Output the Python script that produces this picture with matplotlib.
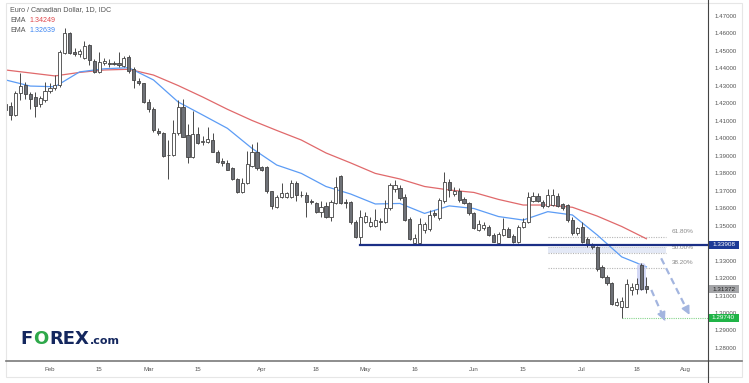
import matplotlib
matplotlib.use('Agg')
import matplotlib.pyplot as plt
import numpy as np
import pandas as pd
from matplotlib.patches import Rectangle, FancyBboxPatch
from matplotlib.lines import Line2D
import matplotlib.transforms as mtransforms

plt.rcParams['font.family'] = ['Liberation Sans', 'DejaVu Sans']

# ---------------- data ----------------
dates = pd.bdate_range('2022-01-19', '2022-07-20')

opens = [1.4196, 1.4185, 1.4133, 1.4261, 1.4305, 1.4254, 1.4236, 1.4196, 1.4219, 1.4272,
         1.4288, 1.4305, 1.4487, 1.4603, 1.4496, 1.4481, 1.4460, 1.4534, 1.4444, 1.4378,
         1.4429, 1.4431, 1.4431, 1.4433, 1.4414, 1.4467, 1.4395, 1.4330, 1.4315, 1.4210,
         1.4168, 1.4044, 1.4030, 1.3907, 1.3904, 1.4030, 1.4179, 1.4019, 1.3893, 1.4027,
         1.3979, 1.3981, 1.3990, 1.3923, 1.3868, 1.3860, 1.3828, 1.3765, 1.3690, 1.3744,
         1.3841, 1.3923, 1.3834, 1.3834, 1.3696, 1.3609, 1.3662, 1.3664, 1.3664, 1.3742,
         1.3678, 1.3675, 1.3643, 1.3631, 1.3580, 1.3610, 1.3552, 1.3630, 1.3784, 1.3637,
         1.3637, 1.3523, 1.3435, 1.3523, 1.3500, 1.3500, 1.3528, 1.3519, 1.3599, 1.3708,
         1.3714, 1.3664, 1.3538, 1.3402, 1.3402, 1.3475, 1.3478, 1.3571, 1.3544, 1.3641,
         1.3752, 1.3681, 1.3700, 1.3651, 1.3631, 1.3574, 1.3475, 1.3485, 1.3494, 1.3447,
         1.3402, 1.3447, 1.3479, 1.3441, 1.3408, 1.3491, 1.3521, 1.3643, 1.3670, 1.3637,
         1.3610, 1.3618, 1.3670, 1.3624, 1.3618, 1.3532, 1.3456, 1.3492, 1.3424, 1.3392,
         1.3380, 1.3265, 1.3206, 1.3173, 1.3043, 1.3036, 1.3036, 1.3132, 1.3135, 1.3272,
         1.3157]
highs = [1.4219, 1.4210, 1.4272, 1.4374, 1.4324, 1.4267, 1.4267, 1.4242, 1.4324, 1.4318,
         1.4362, 1.4505, 1.4630, 1.4610, 1.4515, 1.4509, 1.4559, 1.4540, 1.4452, 1.4496,
         1.4458, 1.4452, 1.4444, 1.4496, 1.4471, 1.4477, 1.4406, 1.4345, 1.4318, 1.4223,
         1.4179, 1.4058, 1.4036, 1.3990, 1.4105, 1.4219, 1.4225, 1.4082, 1.4159, 1.4067,
         1.4013, 1.4067, 1.4029, 1.3933, 1.3886, 1.3876, 1.3837, 1.3771, 1.3771, 1.3930,
         1.3967, 1.3978, 1.3841, 1.3841, 1.3701, 1.3675, 1.3746, 1.3694, 1.3761, 1.3758,
         1.3701, 1.3694, 1.3654, 1.3638, 1.3643, 1.3638, 1.3647, 1.3781, 1.3787, 1.3651,
         1.3643, 1.3532, 1.3590, 1.3580, 1.3548, 1.3594, 1.3542, 1.3647, 1.3742, 1.3761,
         1.3733, 1.3681, 1.3547, 1.3452, 1.3542, 1.3523, 1.3590, 1.3590, 1.3657, 1.3809,
         1.3765, 1.3723, 1.3714, 1.3666, 1.3637, 1.3580, 1.3532, 1.3521, 1.3504, 1.3456,
         1.3465, 1.3542, 1.3494, 1.3452, 1.3504, 1.3544, 1.3693, 1.3694, 1.3689, 1.3647,
         1.3708, 1.3708, 1.3685, 1.3631, 1.3624, 1.3551, 1.3494, 1.3521, 1.3435, 1.3401,
         1.3384, 1.3275, 1.3218, 1.3179, 1.3086, 1.3093, 1.3193, 1.3170, 1.3199, 1.3285,
         1.3208]
lows = [1.4151, 1.4105, 1.4128, 1.4219, 1.4225, 1.4168, 1.4122, 1.4179, 1.4210, 1.4261,
        1.4276, 1.4295, 1.4483, 1.4483, 1.4471, 1.4467, 1.4452, 1.4420, 1.4376, 1.4372,
        1.4420, 1.4410, 1.4420, 1.4410, 1.4408, 1.4376, 1.4286, 1.4305, 1.4204, 1.4152,
        1.4036, 1.4019, 1.3893, 1.3767, 1.3899, 1.4019, 1.4006, 1.3857, 1.3887, 1.3967,
        1.3962, 1.3973, 1.3922, 1.3860, 1.3841, 1.3816, 1.3761, 1.3684, 1.3684, 1.3738,
        1.3836, 1.3821, 1.3813, 1.3684, 1.3594, 1.3601, 1.3657, 1.3657, 1.3661, 1.3641,
        1.3664, 1.3551, 1.3624, 1.3572, 1.3548, 1.3544, 1.3527, 1.3624, 1.3626, 1.3599,
        1.3512, 1.3429, 1.3391, 1.3513, 1.3494, 1.3491, 1.3475, 1.3513, 1.3590, 1.3693,
        1.3647, 1.3524, 1.3415, 1.3393, 1.3395, 1.3456, 1.3467, 1.3551, 1.3532, 1.3631,
        1.3666, 1.3670, 1.3637, 1.3624, 1.3561, 1.3479, 1.3471, 1.3475, 1.3441, 1.3404,
        1.3393, 1.3441, 1.3433, 1.3402, 1.3402, 1.3484, 1.3515, 1.3638, 1.3637, 1.3599,
        1.3605, 1.3613, 1.3605, 1.3590, 1.3523, 1.3447, 1.3447, 1.3399, 1.3378, 1.3364,
        1.3243, 1.3199, 1.3160, 1.3048, 1.3038, 1.2974, 1.3033, 1.3103, 1.3109, 1.3133,
        1.3115]
closes = [1.4162, 1.4133, 1.4261, 1.4299, 1.4254, 1.4225, 1.4185, 1.4231, 1.4272, 1.4288,
          1.4305, 1.4496, 1.4604, 1.4488, 1.4481, 1.4500, 1.4528, 1.4448, 1.4378, 1.4439,
          1.4444, 1.4426, 1.4426, 1.4420, 1.4458, 1.4387, 1.4334, 1.4315, 1.4210, 1.4166,
          1.4048, 1.4029, 1.3899, 1.3902, 1.4032, 1.4179, 1.4010, 1.3895, 1.4022, 1.3975,
          1.3986, 1.3996, 1.3924, 1.3866, 1.3859, 1.3821, 1.3765, 1.3690, 1.3746, 1.3850,
          1.3923, 1.3828, 1.3819, 1.3696, 1.3613, 1.3664, 1.3689, 1.3687, 1.3742, 1.3673,
          1.3673, 1.3637, 1.3634, 1.3580, 1.3607, 1.3551, 1.3637, 1.3724, 1.3630, 1.3628,
          1.3518, 1.3435, 1.3551, 1.3554, 1.3523, 1.3532, 1.3519, 1.3599, 1.3730, 1.3733,
          1.3658, 1.3532, 1.3424, 1.3428, 1.3509, 1.3512, 1.3561, 1.3559, 1.3647, 1.3752,
          1.3704, 1.3700, 1.3647, 1.3631, 1.3571, 1.3485, 1.3509, 1.3504, 1.3447, 1.3408,
          1.3452, 1.3479, 1.3437, 1.3408, 1.3491, 1.3523, 1.3664, 1.3670, 1.3643, 1.3613,
          1.3673, 1.3675, 1.3615, 1.3599, 1.3532, 1.3456, 1.3485, 1.3408, 1.3389, 1.3375,
          1.3252, 1.3208, 1.3170, 1.3053, 1.3063, 1.3067, 1.3166, 1.3149, 1.3168, 1.3137,
          1.3137]

ema_idx = [0, 5, 10, 15, 20, 25, 30, 35, 40, 45, 50, 55, 60, 65, 70, 75, 80, 85, 90,
           95, 100, 105, 110, 115, 120, 125, 130]
ema_slow = [1.4391, 1.4374, 1.4357, 1.4377, 1.4391, 1.4395, 1.4362, 1.4302, 1.4236,
            1.4166, 1.4102, 1.4045, 1.3990, 1.3916, 1.3859, 1.3799, 1.3767, 1.3724,
            1.3704, 1.3690, 1.3650, 1.3618, 1.3618, 1.3605, 1.3555, 1.3495, 1.34249]
ema_fast = [1.4334, 1.4299, 1.4295, 1.4380, 1.4398, 1.4404, 1.4334, 1.4208, 1.4133,
            1.4057, 1.3942, 1.3847, 1.3799, 1.3724, 1.3681, 1.3624, 1.3627, 1.3570,
            1.3613, 1.3598, 1.3552, 1.3532, 1.3580, 1.3561, 1.3447, 1.3321, 1.32639]

tick_dates = ['2022-02-01', '2022-02-15', '2022-03-01', '2022-03-15', '2022-04-01',
              '2022-04-18', '2022-05-02', '2022-05-16', '2022-06-01', '2022-06-15',
              '2022-07-01', '2022-07-18', '2022-08-01']
tick_labels = ['Feb', '15', 'Mar', '15', 'Apr', '18', 'May', '16', 'Jun', '15', 'Jul', '18', 'Aug']
price_ticks = [1.28, 1.29, 1.30, 1.31, 1.32, 1.33, 1.34, 1.35, 1.36, 1.37, 1.38, 1.39,
               1.40, 1.41, 1.42, 1.43, 1.44, 1.45, 1.46, 1.47]

support = 1.33908
swing_low = 1.29740
last_price = 1.31372
fib_levels = [1.3433, 1.3343, 1.3256]
fib_labels = ['61.80%', '50.00%', '38.20%']
zone_top = 1.3380
support_start = '2022-04-29'
low_date = '2022-07-13'
fib_start, fib_end = '2022-06-22', '2022-07-26'
highlight_date = '2022-07-19'
arrows = [('2022-07-25', 1.3313, '2022-08-02', 1.2975),
          ('2022-07-21', 1.3132, '2022-07-26', 1.2941)]

# ---------------- figure ----------------
W, H = 749, 383
fig = plt.figure(figsize=(W / 100, H / 100), dpi=100)
fig.patch.set_facecolor('white')
ax = fig.add_axes([6 / W, 1 - 361 / H, 702 / W, 357 / H])
ax.set_facecolor('white')

ext_dates = pd.bdate_range('2022-01-19', '2022-08-10')
def pos(d):
    return ext_dates.get_indexer(pd.to_datetime([d]))[0]

o = np.array(opens); h = np.array(highs); l = np.array(lows); c = np.array(closes)
x = np.arange(len(dates))
up = c >= o

# EMAs
ax.plot(ema_idx, ema_slow, color='#e0696b', lw=0.9, zorder=2)
ax.plot(ema_idx, ema_fast, color='#5c9cf5', lw=0.9, zorder=2)

# candles
ax.vlines(x, l, h, color='#4a4a4a', lw=0.7, zorder=3)
body_bot = np.minimum(o, c)
body_h = np.maximum(np.abs(c - o), 0.00025)
ax.bar(x, body_h, bottom=body_bot, width=0.64,
       color=np.where(up, '#ffffff', '#6e7177'), edgecolor='#444444',
       linewidth=0.6, zorder=4)

ax.set_xlim(0.08, 142.5)
ax.set_ylim(1.27251, 1.47687)

# fib zone & lines
f0, f1 = pos(fib_start), pos(fib_end)
ax.fill_between([f0, f1], fib_levels[1], zone_top, color='#e4e9f6', zorder=1, lw=0)
for lev, lab in zip(fib_levels, fib_labels):
    ax.plot([f0, f1], [lev, lev], ls=(0, (1, 1.2)), color='#b5b5b5', lw=0.8, zorder=1.5)
    ax.text(139.6, lev + 0.0031, lab, ha='right', va='center', fontsize=4.6,
            color='#8a8a8a', zorder=5)
ax.plot([f0, f1], [zone_top, zone_top], ls=(0, (1, 1.2)), color='#c9c9c9', lw=0.7, zorder=1.5)

# support line
ax.plot([pos(support_start), 142.5], [support, support], color='#1b2f86', lw=1.6, zorder=5)
# swing low dotted
ax.plot([pos(low_date), 142.5], [swing_low, swing_low], ls=(0, (1, 1)), color='#86d48c',
        lw=0.8, zorder=1.5)

# highlight box
hx = pos(highlight_date)
hb = FancyBboxPatch((hx - 0.9, 1.3129), 1.8, 0.0156,
                    boxstyle='round,pad=0,rounding_size=0.6',
                    mutation_aspect=0.004, fc='#c5cbf3', ec='none', alpha=0.75, zorder=2.5)
ax.add_patch(hb)

# arrows
for (d0, p0, d1, p1) in arrows:
    x0, x1 = pos(d0), pos(d1)
    ax.plot([x0, x1 - (x1 - x0) * 0.08], [p0, p1 - (p1 - p0) * 0.08], ls=(0, (3, 2)),
            color='#a3b5df', lw=1.6, zorder=5, solid_capstyle='butt')
    ax.annotate('', xy=(x1, p1), xytext=(x1 - (x1 - x0) * 0.2, p1 - (p1 - p0) * 0.2),
                arrowprops=dict(arrowstyle='-|>,head_length=0.5,head_width=0.25',
                                color='#a3b5df', lw=1.2), zorder=5)

# axes styling
for s in ax.spines.values():
    s.set_visible(False)
ax.yaxis.tick_right()
ax.set_yticks(price_ticks)
# the 1.34000 label is hidden behind the support price box in the original
ax.set_yticklabels(['' if abs(t - 1.34) < 1e-9 else '%.5f' % t for t in price_ticks])
ax.tick_params(axis='y', length=0, pad=5, labelsize=4.4, labelcolor='#555555')
ax.set_xticks([pos(d) for d in tick_dates])
ax.set_xticklabels(tick_labels)
ax.tick_params(axis='x', length=0, pad=4, labelsize=4.4, labelcolor='#555555')

# price boxes at right axis
bt = mtransforms.blended_transform_factory(ax.transAxes, ax.transData)
def pricebox(val, fc, tc):
    hgt = 8.0 / 1747
    ax.add_patch(Rectangle((1.0, val - hgt / 2), 31 / 702, hgt, transform=bt,
                           fc=fc, ec='none', clip_on=False, zorder=10))
    ax.text(1.0 + 15.5 / 702, val, '%.5f' % val, transform=bt, ha='center', va='center',
            fontsize=4.6, color=tc, clip_on=False, zorder=11)
pricebox(support, '#1c3a96', 'white')
pricebox(last_price, '#a4a5a8', '#222222')
pricebox(swing_low, '#20b447', 'white')

# frame lines
fig.add_artist(Line2D([6 / W, 742 / W], [1 - 361 / H, 1 - 361 / H], color='#7a7a7a', lw=1.2))
fig.add_artist(Line2D([708 / W, 708 / W], [0, 1], color='#444444', lw=0.8))
fig.add_artist(Rectangle((6 / W, 1 - 377 / H), 736 / W, 374 / H, fill=False,
                         ec='#e6e6e6', lw=0.8))

# header
fig.text(10 / W, 1 - 10 / H, 'Euro / Canadian Dollar, 1D, IDC', fontsize=5.1,
         color='#555555', va='center')
fig.text(10 / W, 1 - 20 / H, 'EMA', fontsize=5.1, color='#555555', va='center')
fig.text(29 / W, 1 - 20 / H, '1.34249', fontsize=5.1, color='#e0474c', va='center')
fig.text(10 / W, 1 - 30 / H, 'EMA', fontsize=5.1, color='#555555', va='center')
fig.text(29 / W, 1 - 30 / H, '1.32639', fontsize=5.1, color='#3d86f2', va='center')

# logo: pieces placed one after another using their rendered widths
navy = '#14275e'
renderer = fig.canvas.get_renderer()
cur = 20.0
for piece, col, fs in [('F', navy, 13), ('O', '#2ea84a', 13), ('REX', navy, 13),
                       ('.com', navy, 8)]:
    t = fig.text(cur / W, 1 - 343.5 / H, piece, color=col, fontsize=fs, fontweight='bold',
                 va='baseline', family='DejaVu Sans')
    bb = t.get_window_extent(renderer)
    cur = bb.x1 + 0.8

fig.savefig('out.png', dpi=100)
